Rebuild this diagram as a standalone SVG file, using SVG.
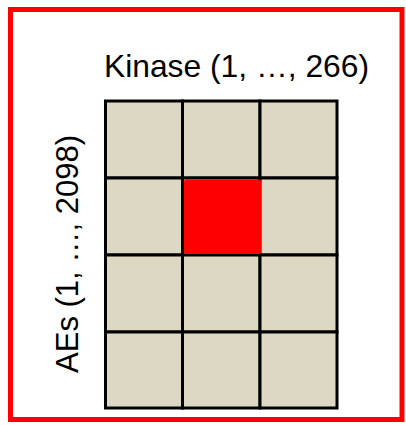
<svg xmlns="http://www.w3.org/2000/svg" width="406" height="425" viewBox="0 0 406 425">
<style>
.lbl{font-family:"Liberation Sans",Arial,sans-serif;font-size:32px;fill:#000}
.cell{fill:#DDD8C3;stroke:#000;stroke-width:3}
</style>
<rect x="0" y="0" width="406" height="425" fill="#fff"/>
<rect id="frame" x="10.5" y="9.5" width="391.5" height="410" fill="none" stroke="#FF0000" stroke-width="5"/>
<g id="title"><text class="lbl" x="104" y="77" textLength="265" lengthAdjust="spacingAndGlyphs">Kinase (1, …, 266)</text></g>
<g id="ylabel"><text class="lbl" transform="translate(78,254) rotate(-90)" text-anchor="middle" textLength="238" lengthAdjust="spacingAndGlyphs">AEs (1, …, 2098)</text></g>
<g id="grid">
<rect class="cell" x="105.5" y="101" width="77" height="77"/>
<rect class="cell" x="182.5" y="101" width="77.5" height="77"/>
<rect class="cell" x="260" y="101" width="77" height="77"/>
<rect class="cell" x="105.5" y="178" width="77" height="77"/>
<rect class="cell" x="182.5" y="178" width="77.5" height="77"/>
<rect class="cell" x="260" y="178" width="77" height="77"/>
<rect class="cell" x="105.5" y="255" width="77" height="77"/>
<rect class="cell" x="182.5" y="255" width="77.5" height="77"/>
<rect class="cell" x="260" y="255" width="77" height="77"/>
<rect class="cell" x="105.5" y="332" width="77" height="76"/>
<rect class="cell" x="182.5" y="332" width="77.5" height="76"/>
<rect class="cell" x="260" y="332" width="77" height="76"/>
</g>
<g id="highlight"><rect x="184" y="179.5" width="77" height="74.5" rx="2" fill="#FF0000"/></g>
</svg>
